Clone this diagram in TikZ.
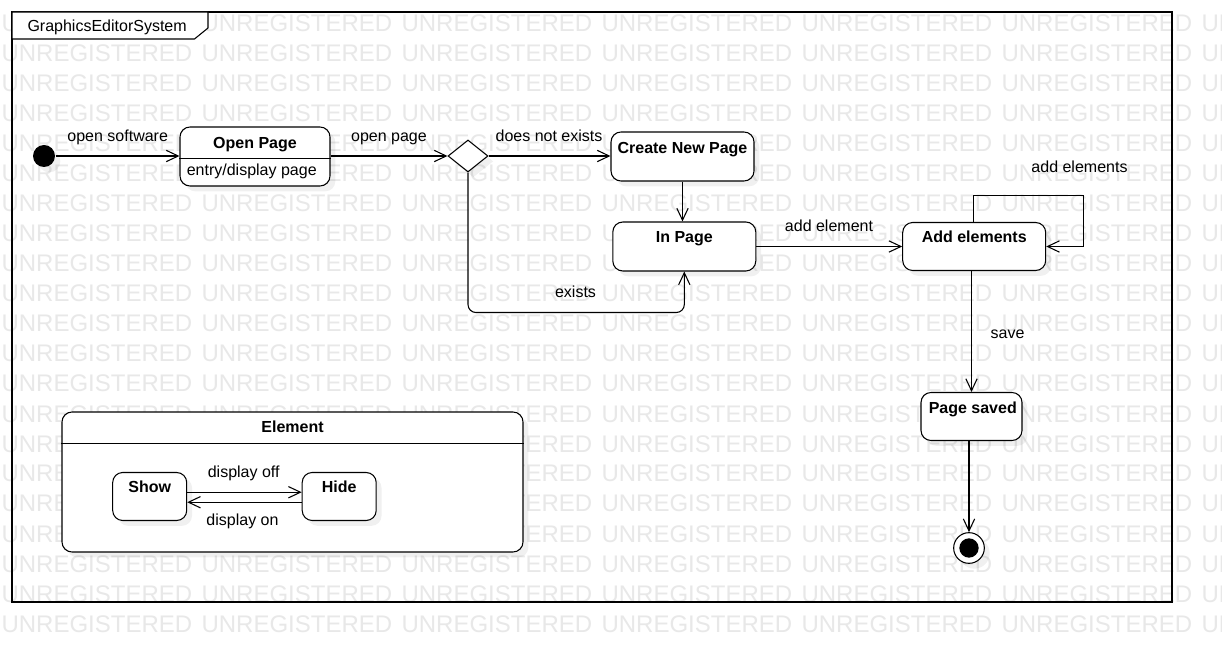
\documentclass[tikz,border=0pt]{standalone}
\usepackage{fontspec}
\setmainfont{Liberation Sans}
\usetikzlibrary{arrows.meta,shapes.geometric,shadows}

\begin{document}
\begin{tikzpicture}[x=0.75pt,y=-0.75pt,
  font=\fontsize{12pt}{14pt}\selectfont,
  line width=0.8pt,
  arr/.style={draw=black, line width=0.8pt, -{Straight Barb[length=9pt,width=8.5pt]}},
  shad/.style={drop shadow={shadow xshift=4pt,shadow yshift=-4pt,fill=black,opacity=0.06}},
  state/.style={draw=black, fill=white, rounded corners=7.5pt, inner sep=0pt, shad},
  wh/.style 2 args={minimum width=#1*0.75pt, minimum height=#2*0.75pt},
  txt/.style={inner sep=0pt, anchor=base},
  btxt/.style={txt, font=\fontsize{12pt}{14pt}\selectfont\bfseries},
  wm/.style={inner sep=0pt, anchor=base west, text=black!9, font=\fontsize{18pt}{20pt}\selectfont}
]
\useasboundingbox (0,0) rectangle (1222,652);
\fill[white] (0,0) rectangle (1222,652);

% watermark
\begin{scope}
\clip (0,0) rectangle (1222,652);
\foreach \j in {0,...,20}{
  \foreach \i in {0,...,6}{
    \node[wm] (wm-\i-\j) at (\i*200+1, 32+\j*30) {UNREGISTERED};
  }
}
\end{scope}

% frame
\draw[line width=0.9pt] (12,12) rectangle (1172,602);
\draw[fill=white, line width=0.8pt] (12,12) -- (208,12) -- (208,28) -- (194.5,39) -- (12,39) -- cycle;
\node[inner sep=0pt, anchor=base west] (title) at (27,31.5) {GraphicsEditorSystem};

% states
\node[circle, fill=black, minimum size=16.5pt, inner sep=0pt, shad] (init) at (44,156) {};

\node[state, wh={150}{59}] (openpage) at (255,156.5) {};
\draw (openpage.west |- 0,158.5) -- (openpage.east |- 0,158.5);
\node[btxt] (openpage-t) at (255,148.3) {Open Page};
\node[inner sep=0pt, anchor=base west] (openpage-e) at (186.3,176) {entry/display page};

\node[diamond, draw=black, fill=white, wh={40}{32}, inner sep=0pt, shad] (dec) at (468,156) {};

\node[state, wh={143}{49}] (create) at (682.5,156.5) {};
\node[btxt] (create-t) at (682.5,153.3) {Create New Page};

\node[state, wh={143}{49}] (inpage) at (684.3,246.5) {};
\node[btxt] (inpage-t) at (684.3,242.7) {In Page};

\node[state, wh={143}{48}] (addel) at (974.2,246.5) {};
\node[btxt] (addel-t) at (974.2,242.7) {Add elements};

\node[state, wh={101}{48}] (saved) at (971.5,416.5) {};
\node[btxt] (saved-t) at (972.8,413.3) {Page saved};

\node[circle, draw=black, fill=white, minimum size=23pt, inner sep=0pt, shad] (final) at (969,548) {};
\node[circle, fill=black, minimum size=14.5pt, inner sep=0pt] (final-in) at (final) {};

% composite Element
\node[state, wh={461}{140}] (elem) at (292.5,482) {};
\draw (elem.west |- 0,443.3) -- (elem.east |- 0,443.3);
\node[btxt] (elem-t) at (292.5,432.7) {Element};

\node[state, wh={74}{48}] (show) at (149.7,496.5) {};
\node[btxt] (show-t) at (149.7,492.7) {Show};
\node[state, wh={74}{48}] (hide) at (339.2,496.5) {};
\node[btxt] (hide-t) at (339.2,492.7) {Hide};

% connectors
\draw[arr] (init.east) -- (init.east -| openpage.west);
\draw[arr] (openpage.east |- dec.west) -- (dec.west);
\draw[arr] (dec.east) -- (dec.east -| create.west);
\draw[arr] (create.south) -- (create.south |- inpage.north);
\draw[arr, rounded corners=6pt] (dec.south) |- ([yshift=-30.75pt]inpage.south) -- (inpage.south);
\draw[arr] (inpage.east) -- (addel.west);
\draw[arr] ([xshift=-0.5pt]addel.north) |- ([xshift=27.75pt, yshift=19.5pt]addel.north east) |- (addel.east);
\draw[arr] (addel.south -| saved.north) -- (saved.north);
\draw[arr] (saved.south -| final.north) -- (final.north);
\draw[arr] ([yshift=3.2pt]show.east) -- ([yshift=3.2pt]show.east -| hide.west);
\draw[arr] ([yshift=-4.3pt]hide.west) -- ([yshift=-4.3pt]hide.west -| show.east);

% transition labels
\node[txt] (l-opensw) at (117.7,141.7) {open software};
\node[txt] (l-openpg) at (389,141.7) {open page};
\node[txt] (l-dne) at (549,142) {does not exists};
\node[txt] (l-exists) at (575.5,297.7) {exists};
\node[txt] (l-addel) at (829,231.7) {add element};
\node[txt] (l-addels) at (1079.5,172.7) {add elements};
\node[txt] (l-save) at (1007.5,339) {save};
\node[txt] (l-doff) at (243.7,477.7) {display off};
\node[txt] (l-don) at (242.5,525) {display on};
\end{tikzpicture}
\end{document}
